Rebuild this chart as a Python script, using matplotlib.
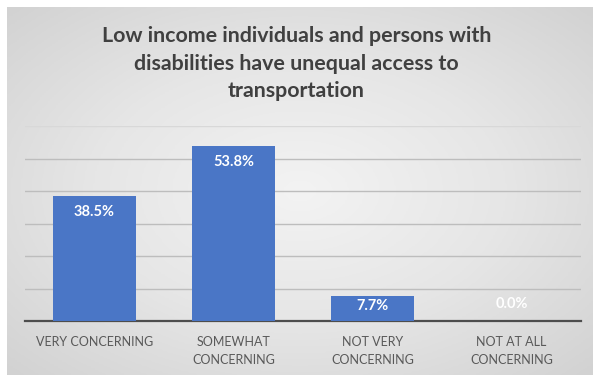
import numpy as np
import matplotlib.pyplot as plt
from matplotlib.colors import LinearSegmentedColormap

categories = ["VERY CONCERNING", "SOMEWHAT\nCONCERNING", "NOT VERY\nCONCERNING", "NOT AT ALL\nCONCERNING"]
shares = [38.5, 53.8, 7.7, 0.0]
title = "Low income individuals and persons with\ndisabilities have unequal access to\ntransportation"

plt.rcParams['font.family'] = ['Lato', 'DejaVu Sans']

fig = plt.figure(figsize=(5.93, 3.75), dpi=100)
fig.patch.set_facecolor('white')

# grey panel with a soft radial shading behind the chart
bg = fig.add_axes([7 / 593, 0, 586 / 593, 368 / 375])
yy, xx = np.mgrid[-1:1:200j, -1:1:300j]
r = np.sqrt(xx ** 2 + yy ** 2) / np.sqrt(2)
shade = LinearSegmentedColormap.from_list('shade', ['#f3f3f3', '#e6e6e6', '#d2d2d2'])
bg.imshow(r, cmap=shade, vmin=0, vmax=1, aspect='auto', extent=[0, 1, 0, 1])
bg.set_axis_off()

ax = fig.add_axes([25 / 593, (375 - 321) / 375, 556 / 593, 195 / 375])
ax.patch.set_alpha(0)
x = np.arange(len(categories))
bars = ax.bar(x, shares, width=0.59, color='#4a76c6', zorder=3)
ax.set_xlim(-0.5, 3.5)
ax.set_ylim(0, 60)
ax.set_yticks(np.arange(10, 61, 10))
ax.yaxis.grid(True, color='#bdbdbd', linewidth=1)
ax.get_ygridlines()[-1].set_color('#d8d8d8')
ax.set_axisbelow(True)
ax.tick_params(axis='y', left=False, labelleft=False)
ax.tick_params(axis='x', bottom=False, colors='#595959', labelsize=9, pad=7)
ax.set_xticks(x)
ax.set_xticklabels(categories, linespacing=1.6)
for s in ['left', 'right', 'top']:
    ax.spines[s].set_visible(False)
ax.spines['bottom'].set_color('#4d4d4d')
ax.spines['bottom'].set_linewidth(1.6)

# value labels just inside the bar tops (above the baseline for empty bars)
for b, v in zip(bars, shares):
    cx = b.get_x() + b.get_width() / 2
    if v > 0:
        ax.text(cx, v - min(4.9, v * 0.4), f"{v:.1f}%", ha='center', va='center',
                color='white', fontsize=10.5, fontweight='bold', zorder=4)
    else:
        ax.annotate(f"{v:.1f}%", (cx, v), xytext=(0, 12), textcoords='offset points',
                    ha='center', va='center', color='white', fontsize=10.5,
                    fontweight='bold', zorder=4)

fig.text(0.5, 1 - 63.5 / 375, title, ha='center', va='center', fontsize=15.4,
         fontweight='bold', color='#404040', linespacing=1.45)

fig.savefig('out.png', dpi=100)
